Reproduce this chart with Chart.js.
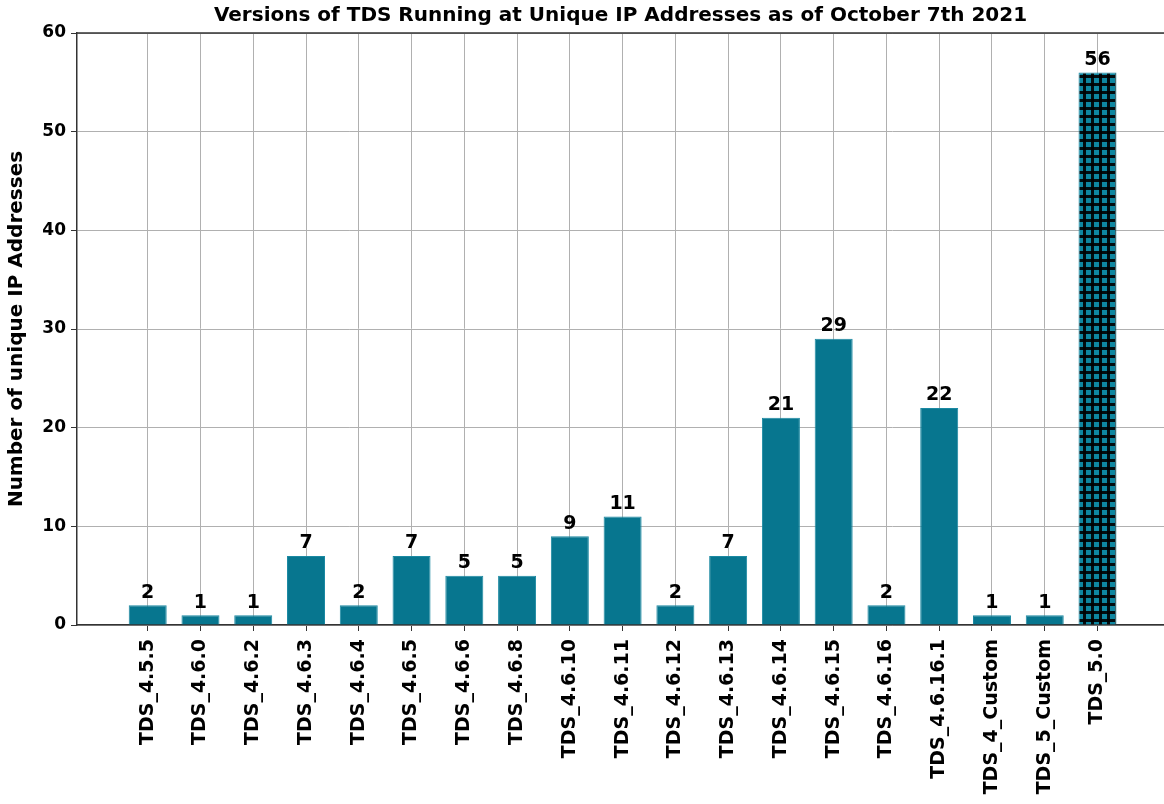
<!DOCTYPE html>
<html>
<head>
<meta charset="utf-8">
<script src="https://cdn.jsdelivr.net/npm/chart.js@4.4.0/dist/chart.umd.min.js"></script>
<style>
  html, body { margin: 0; padding: 0; background: #fff; }
  #wrap { width: 1164px; height: 804px; }
</style>
</head>
<body>
<div id="wrap"><canvas id="myBarChart" width="1164" height="804"></canvas></div>
<script>
// |------------------------------- data -------------------------------|
var versions = ['TDS_4.5.5', 'TDS_4.6.0', 'TDS_4.6.2', 'TDS_4.6.3', 'TDS_4.6.4', 'TDS_4.6.5',
  'TDS_4.6.6', 'TDS_4.6.8', 'TDS_4.6.10', 'TDS_4.6.11', 'TDS_4.6.12', 'TDS_4.6.13',
  'TDS_4.6.14', 'TDS_4.6.15', 'TDS_4.6.16', 'TDS_4.6.16.1', 'TDS_4_Custom', 'TDS_5_Custom', 'TDS_5.0'];
var ipCounts = [2, 1, 1, 7, 2, 7, 5, 5, 9, 11, 2, 7, 21, 29, 2, 22, 1, 1, 56];
var yTicks = [0, 10, 20, 30, 40, 50, 60];

var chartTitle = 'Versions of TDS Running at Unique IP Addresses as of October 7th 2021';
var yTitle = 'Number of unique IP Addresses';

var FONT = "'DejaVu Sans', sans-serif";
var barColor = '#07768f';

// hatch pattern ('+') for the TDS_5.0 bar
function makeHatch() {
  var c = document.createElement('canvas');
  c.width = 8; c.height = 8;
  var g = c.getContext('2d');
  g.fillStyle = '#0e87a1';
  g.fillRect(0, 0, 8, 8);
  g.fillStyle = 'rgba(0,0,0,0.9)';
  g.fillRect(3, 0, 3, 8);
  g.fillRect(0, 3, 8, 3);
  return g.createPattern(c, 'repeat');
}
var hatch = makeHatch();

var points = ipCounts.map(function (v, i) { return { x: i, y: v }; });
var colors = ipCounts.map(function (v, i) { return i === ipCounts.length - 1 ? hatch : barColor; });

// title, value labels and top spine
var extras = {
  id: 'extras',
  afterDraw: function (chart) {
    var ctx = chart.ctx, area = chart.chartArea;
    ctx.save();
    // top spine
    ctx.strokeStyle = '#333';
    ctx.lineWidth = 1.5;
    ctx.beginPath();
    ctx.moveTo(area.left, area.top);
    ctx.lineTo(area.right, area.top);
    ctx.stroke();

    // title
    ctx.fillStyle = '#000';
    ctx.font = 'bold 20px ' + FONT;
    ctx.textAlign = 'center';
    ctx.textBaseline = 'bottom';
    ctx.fillText(chartTitle, (area.left + area.right) / 2, area.top - 7);

    // value labels
    ctx.font = 'bold 19px ' + FONT;
    var meta = chart.getDatasetMeta(0);
    meta.data.forEach(function (bar, i) {
      ctx.fillText(String(ipCounts[i]), bar.x, bar.y - 3);
    });
    ctx.restore();
  }
};

var ctx = document.getElementById('myBarChart').getContext('2d');
var myBarChart = new Chart(ctx, {
  type: 'bar',
  data: {
    datasets: [{
      label: 'Unique IPs',
      data: points,
      backgroundColor: colors,
      borderColor: '#1b89a2',
      borderWidth: 1,
      barPercentage: 0.72,
      categoryPercentage: 1.0
    }]
  },
  options: {
    responsive: false,
    animation: false,
    layout: { padding: { top: 33, right: 0, left: 0, bottom: 0 } },
    scales: {
      x: {
        type: 'linear',
        min: -1.34,
        max: 19.26,
        offset: false,
        z: 1,
        afterBuildTicks: function (scale) {
          scale.ticks = versions.map(function (v, i) { return { value: i }; });
        },
        afterFit: function (scale) {
          scale.height = 179;
          scale.paddingLeft = 0;
          scale.paddingRight = 0;
        },
        grid: { color: '#b0b0b0', lineWidth: 1, tickColor: '#333', tickLength: 6, offset: false },
        border: { color: '#333', width: 1.5 },
        ticks: {
          autoSkip: false,
          minRotation: 90,
          maxRotation: 90,
          padding: 8,
          color: '#000',
          font: { family: FONT, size: 19, weight: 'bold' },
          callback: function (value) { return versions[value]; }
        }
      },
      y: {
        min: 0,
        max: 60,
        z: 1,
        afterBuildTicks: function (scale) {
          scale.ticks = yTicks.map(function (v) { return { value: v }; });
        },
        afterFit: function (scale) {
          scale.width = 77;
          scale.paddingTop = 0;
          scale.paddingBottom = 0;
        },
        grid: { color: '#b0b0b0', lineWidth: 1, tickColor: '#333', tickLength: 6 },
        border: { color: '#333', width: 1.5 },
        title: {
          display: true,
          text: yTitle,
          color: '#000',
          font: { family: FONT, size: 20, weight: 'bold' },
          padding: { top: 5, bottom: 4 }
        },
        ticks: {
          padding: 5,
          color: '#000',
          font: { family: FONT, size: 17, weight: 'bold' }
        }
      }
    },
    plugins: {
      legend: { display: false },
      tooltip: { enabled: false }
    }
  },
  plugins: [extras]
});
</script>
</body>
</html>
